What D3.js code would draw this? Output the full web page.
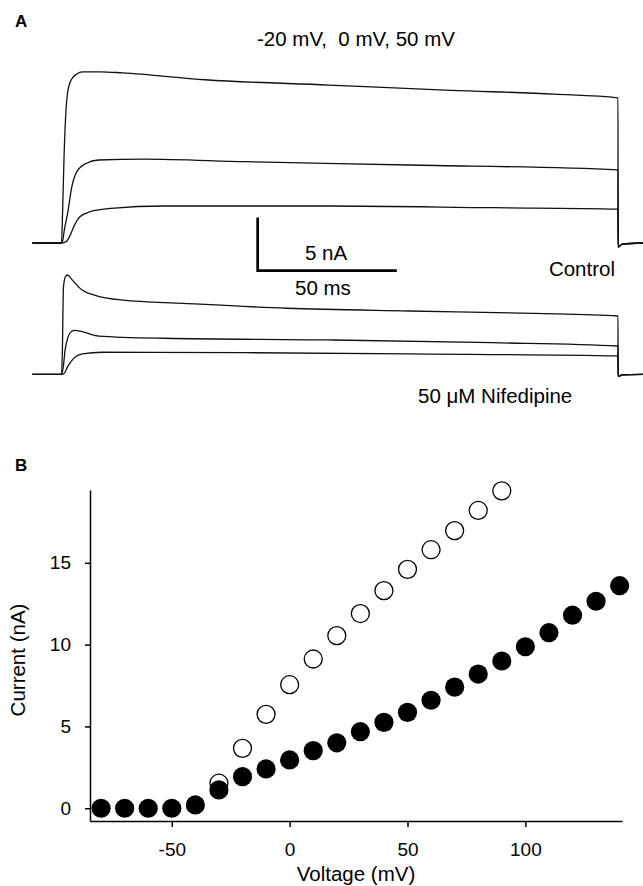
<!DOCTYPE html>
<html>
<head>
<meta charset="utf-8">
<script src="https://cdn.jsdelivr.net/npm/d3@7"></script>
<style>
  body { margin: 0; background: #fff; }
  text { font-family: "Liberation Sans", Arial, Helvetica, sans-serif; fill: #000; }
</style>
</head>
<body>
<div id="chart"></div>
<script>
// Panel A: current traces, [time (ms), current (nA)]
const ctl50 = [[-10.5, 0], [0, 0], [0.4, 3], [0.9, 8], [1.5, 12], [2.2, 14.2], [3.5, 15.4], [5.5, 15.95], [7.5, 16.15], [14, 16.15], [22, 16.05], [51.6, 15.4], [96, 14.9], [140, 14.4], [177, 14.05], [200, 13.7], [200.05, -0.4], [201.5, -0.1], [209, 0]];
const ctl0 = [[-10.5, 0], [0, 0], [0.5, 0.3], [1.0, 1.2], [2.2, 2.8], [3.7, 5.3], [5.9, 6.9], [8.8, 7.5], [13.3, 7.83], [29.5, 7.92], [66, 7.67], [125, 7.36], [200, 6.9], [200.05, -0.4], [201.5, -0.1], [209, 0]];
const ctlm20 = [[-10.5, 0], [0, 0], [1.5, 0.1], [2.9, 0.6], [4.4, 1.54], [6.6, 2.48], [10.3, 2.95], [17.7, 3.27], [37, 3.49], [96, 3.49], [155, 3.33], [200, 3.2], [200.05, -0.4], [201.5, -0.1], [209, 0]];
const nif50 = [[-10.5, 0], [0, 0], [0.3, 2], [0.7, 8.2], [1.4, 9.2], [2.2, 9.37], [3.2, 9.1], [4.4, 8.74], [7.4, 7.95], [11.8, 7.48], [22, 7.0], [44, 6.69], [81, 6.23], [125, 5.97], [170, 5.75], [200, 5.5], [200.05, -0.2], [201.5, -0.05], [209, 0]];
const nif0 = [[-10.5, 0], [0, 0], [0.6, 0.6], [1.3, 2.3], [2.2, 3.4], [3.2, 3.95], [4.6, 4.15], [7.4, 4.02], [13.3, 3.61], [37, 3.4], [96, 3.24], [155, 2.98], [200, 2.67], [200.05, -0.2], [201.5, -0.05], [209, 0]];
const nifm20 = [[-10.5, 0], [0, 0], [1.0, 0.1], [2.2, 0.72], [4.4, 1.5], [7.4, 1.92], [14.7, 2.08], [66, 2.04], [125, 1.92], [200, 1.73], [200.05, -0.2], [201.5, -0.05], [209, 0]];

// scale bar: 50 ms x 5 nA
const barTime = [70.5, 120.5];
const barCurrent = [-2.6, 2.4];

// Panel B: I-V relation
const voltsFilled = [-80, -70, -60, -50, -40, -30, -20, -10, 0, 10, 20, 30, 40, 50, 60, 70, 80, 90, 100, 110, 120, 130, 140];
const currFilled = [0, 0, 0, 0, 0.2, 1.12, 1.93, 2.4, 2.95, 3.52, 4.0, 4.68, 5.25, 5.86, 6.6, 7.4, 8.2, 9.0, 9.87, 10.73, 11.8, 12.65, 13.6];
const voltsOpen = [-30, -20, -10, 0, 10, 20, 30, 40, 50, 60, 70, 80, 90];
const currOpen = [1.53, 3.66, 5.74, 7.55, 9.12, 10.55, 11.9, 13.3, 14.6, 15.8, 16.97, 18.2, 19.4];
const xTicks = [-50, 0, 50, 100];
const yTicks = [0, 5, 10, 15];

const W = 643, H = 886;
const svg = d3.select('#chart').append('svg')
    .attr('width', W).attr('height', H);

// ---------- Panel A ----------
svg.append('text').attr('x', 15).attr('y', 27)
    .style('font-weight', 'bold').style('font-size', '17px').text('A');

svg.append('text').attr('x', 257).attr('y', 46)
    .style('font-size', '20.5px').attr('xml:space', 'preserve')
    .text('-20 mV,  0 mV, 50 mV');

let tScale = d3.scaleLinear().domain([0, 200]).range([61.5, 618]);
let yCtl = d3.scaleLinear().domain([0, 10]).range([243, 137]);
let yNif = d3.scaleLinear().domain([0, 10]).range([374.3, 268.3]);

function trace(yS) {
    return d3.line()
        .x(d => tScale(d[0]))
        .y(d => yS(d[1]))
        .curve(d3.curveMonotoneX);
}

[ctl50, ctl0, ctlm20].forEach(tr => {
    svg.append('path').datum(tr)
        .attr('d', trace(yCtl))
        .attr('fill', 'none').attr('stroke', '#111').attr('stroke-width', 1.3);
});
[nif50, nif0, nifm20].forEach(tr => {
    svg.append('path').datum(tr)
        .attr('d', trace(yNif))
        .attr('fill', 'none').attr('stroke', '#111').attr('stroke-width', 1.3);
});

// scale bar
svg.append('path')
    .attr('d', `M${tScale(barTime[0])},${yCtl(barCurrent[1])}V${yCtl(barCurrent[0])}H${tScale(barTime[1])}`)
    .attr('fill', 'none').attr('stroke', '#000').attr('stroke-width', 2.7);

svg.append('text').attr('x', 305).attr('y', 260).style('font-size', '20.5px').text('5 nA');
svg.append('text').attr('x', 295).attr('y', 295).style('font-size', '20.5px').text('50 ms');
svg.append('text').attr('x', 615).attr('y', 276).attr('text-anchor', 'end')
    .style('font-size', '20.5px').text('Control');
svg.append('text').attr('x', 418).attr('y', 403).style('font-size', '20.5px')
    .text('50 \u03bcM Nifedipine');

// ---------- Panel B ----------
svg.append('text').attr('x', 15).attr('y', 471)
    .style('font-weight', 'bold').style('font-size', '17px').text('B');

let xV = d3.scaleLinear().domain([-84.7, 141]).range([90, 622]);
let yI = d3.scaleLinear().domain([-0.78, 19.45]).range([821, 490]);

let gx = svg.append('g')
    .attr('transform', `translate(0,${yI.range()[0]})`)
    .call(d3.axisBottom(xV).tickValues(xTicks).tickFormat(d => String(d))
        .tickSize(6).tickPadding(16).tickSizeOuter(0));
let gy = svg.append('g')
    .attr('transform', `translate(${xV.range()[0]},0)`)
    .call(d3.axisLeft(yI).tickValues(yTicks).tickFormat(d => String(d))
        .tickSize(5).tickPadding(14).tickSizeOuter(0));

[gx, gy].forEach(g => {
    g.selectAll('path, line').attr('stroke', '#000').attr('stroke-width', 1.5);
    g.selectAll('text').style('font-size', '19px')
        .style('font-family', '"Liberation Sans", Arial, Helvetica, sans-serif');
});

svg.append('text').attr('x', 356).attr('y', 881).attr('text-anchor', 'middle')
    .style('font-size', '20.5px').text('Voltage (mV)');
svg.append('text').attr('transform', 'translate(25,660) rotate(-90)')
    .attr('text-anchor', 'middle').style('font-size', '20.5px').text('Current (nA)');

// open circles first, filled drawn on top
svg.append('g').selectAll('circle')
    .data(voltsOpen.map((v, i) => [v, currOpen[i]])).enter()
    .append('circle')
    .attr('cx', d => xV(d[0])).attr('cy', d => yI(d[1]))
    .attr('r', 9).attr('fill', '#fff').attr('stroke', '#000').attr('stroke-width', 1.3);

svg.append('g').selectAll('circle')
    .data(voltsFilled.map((v, i) => [v, currFilled[i]])).enter()
    .append('circle')
    .attr('cx', d => xV(d[0])).attr('cy', d => yI(d[1]))
    .attr('r', 9.6).attr('fill', '#000');
</script>
</body>
</html>
